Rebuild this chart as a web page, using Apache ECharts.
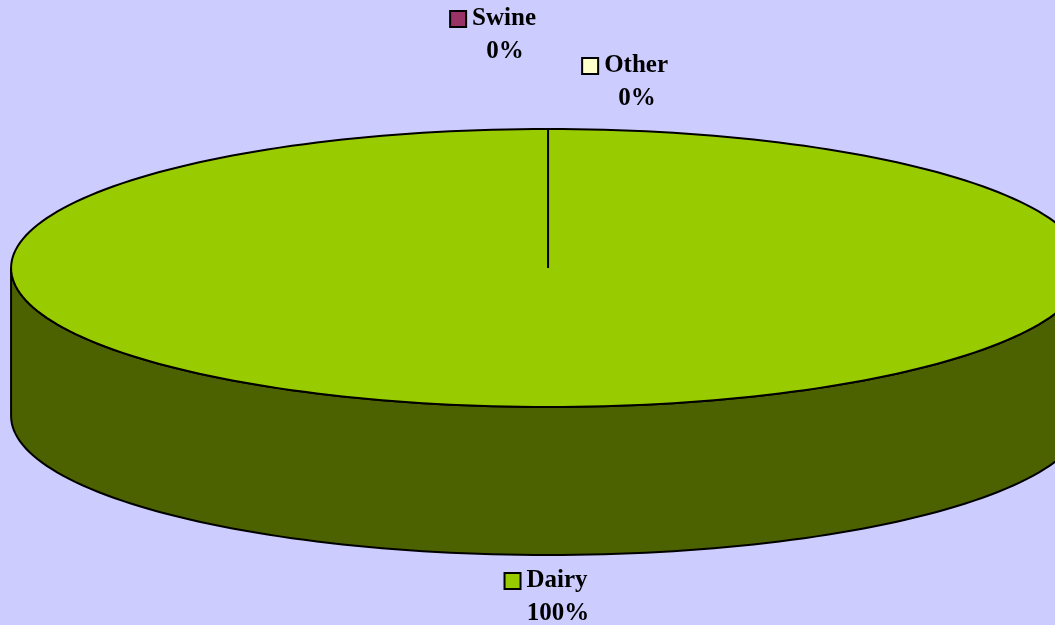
<!DOCTYPE html>
<html>
<head>
<meta charset="utf-8">
<script src="https://cdn.jsdelivr.net/npm/echarts@6/dist/echarts.min.js"></script>
<style>
html, body { margin: 0; padding: 0; background: #CCCCFF; }
#chart { width: 1055px; height: 625px; }
</style>
</head>
<body>
<div id="chart"></div>
<script>
var names = ['Dairy', 'Swine', 'Other'];
var values = [100, 0, 0];

var topColors = ['#99CC00', '#993366', '#FFFFCC'];
var sideColors = ['#4C6100', '#4D1A33', '#808066'];
// Excel pushes the empty slices' labels apart, so nudge each one
var labelNudge = [[10, 26], [-43, -110], [89, -63]];

var total = values.reduce(function (a, b) { return a + b; }, 0);
var startAngles = [];
var acc = 0;
values.forEach(function (v) {
    startAngles.push(acc / total * 360);
    acc += v;
});

// angle in degrees, clockwise from 12 o'clock
function ellPt(cx, cy, rx, ry, deg, dy) {
    var r = deg * Math.PI / 180;
    return [cx + rx * Math.sin(r), cy - ry * Math.cos(r) + (dy || 0)];
}

function arcPts(cx, cy, rx, ry, a0, a1, dy) {
    var pts = [];
    var n = Math.max(2, Math.ceil((a1 - a0) / 1.5));
    for (var i = 0; i <= n; i++) {
        pts.push(ellPt(cx, cy, rx, ry, a0 + (a1 - a0) * i / n, dy));
    }
    return pts;
}

function renderItem(params, api) {
    var w = api.getWidth(), h = api.getHeight();
    var cx = w * 0.5195, cy = h * 0.4288;
    var rx = w * 0.509, ry = h * 0.2224, depth = h * 0.2368;
    var i = params.dataIndex;
    var v = api.value(1);
    var a0 = startAngles[i];
    var a1 = a0 + v / total * 360;
    var children = [];

    if (v > 0) {
        // front wall, only the part facing us
        var s0 = Math.max(a0, 90), s1 = Math.min(a1, 270);
        if (s1 > s0) {
            var top = arcPts(cx, cy, rx, ry, s0, s1, 0);
            var bot = arcPts(cx, cy, rx, ry, s0, s1, depth).reverse();
            children.push({
                type: 'polygon', z2: 1,
                shape: { points: top.concat(bot) },
                style: { fill: sideColors[i], stroke: '#000', lineWidth: 2 }
            });
        }
        children.push({
            type: 'polygon', z2: 2,
            shape: { points: [[cx, cy]].concat(arcPts(cx, cy, rx, ry, a0, a1, 0)) },
            style: { fill: topColors[i], stroke: '#000', lineWidth: 2 }
        });
    }

    var m = (a0 + a1) / 2;
    var front = Math.cos(m * Math.PI / 180) < 0;
    var p = ellPt(cx, cy, rx, ry, m, front ? depth : 0);
    var pct = Math.round(v / total * 100) + '%';
    children.push({
        type: 'text', z2: 3,
        style: {
            x: p[0] + labelNudge[i][0],
            y: p[1] + labelNudge[i][1] - 16.5,
            text: '{box|}{name|' + names[i] + '}{sp|}\n{pct|' + pct + '}',
            align: 'center',
            verticalAlign: 'top',
            rich: {
                box: { width: 14, height: 14, backgroundColor: topColors[i], borderColor: '#000', borderWidth: 2 },
                name: { fontFamily: 'Liberation Serif', fontWeight: 'bold', fontSize: 25, lineHeight: 33, color: '#000', padding: [0, 0, 0, 7] },
                sp: { width: 23, height: 14 },
                pct: { fontFamily: 'Liberation Serif', fontWeight: 'bold', fontSize: 25, lineHeight: 32, color: '#000' }
            }
        }
    });

    return { type: 'group', children: children };
}

var chart = echarts.init(document.getElementById('chart'));
chart.setOption({
    backgroundColor: '#CCCCFF',
    animation: false,
    series: [{
        type: 'custom',
        coordinateSystem: 'none',
        dimensions: ['idx', 'value'],
        renderItem: renderItem,
        data: names.map(function (n, i) {
            return { name: n, value: [i, values[i]] };
        })
    }]
});
</script>
</body>
</html>
